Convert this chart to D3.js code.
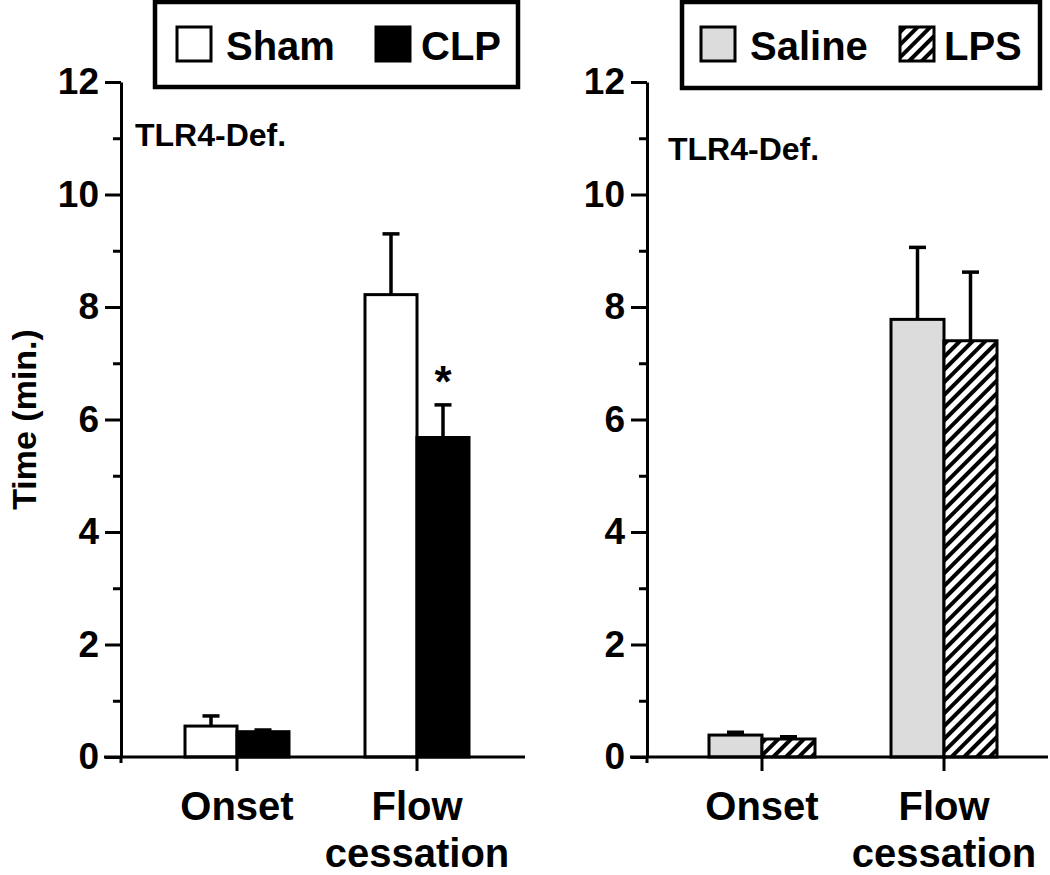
<!DOCTYPE html>
<html>
<head>
<meta charset="utf-8">
<script src="https://cdn.jsdelivr.net/npm/d3@7"></script>
<style>
  html, body { margin: 0; padding: 0; background: #fff; }
  svg { display: block; font-family: "Liberation Sans", Arial, sans-serif; font-weight: bold; }
</style>
</head>
<body>
<svg id="chart" width="1050" height="875"></svg>
<script>
// ---- data ----
const categories = ["Onset", "Flow cessation"];
const yTicks = [0, 2, 4, 6, 8, 10, 12];
const yMinorTicks = [1, 3, 5, 7, 9, 11];

const leftSeries = ["Sham", "CLP"];
const shamMean = [0.55, 8.22];
const shamSE = [0.18, 1.08];
const clpMean = [0.45, 5.68];
const clpSE = [0.03, 0.58];

const rightSeries = ["Saline", "LPS"];
const salineMean = [0.39, 7.78];
const salineSE = [0.05, 1.28];
const lpsMean = [0.32, 7.40];
const lpsSE = [0.04, 1.22];

const panelTitle = "TLR4-Def.";
const yTitle = "Time (min.)";

// ---- setup ----
const svg = d3.select("#chart");
const defs = svg.append("defs");
const pat = defs.append("pattern")
  .attr("id", "hatch")
  .attr("patternUnits", "userSpaceOnUse")
  .attr("width", 9).attr("height", 9)
  .attr("patternTransform", "rotate(45)");
pat.append("rect").attr("width", 9).attr("height", 9).attr("fill", "#fff");
pat.append("line").attr("x1", 2).attr("y1", 0).attr("x2", 2).attr("y2", 9)
  .attr("stroke", "#000").attr("stroke-width", 4);

const y = d3.scaleLinear().domain([0, 12]).range([757, 82]);

const styles = {
  Sham: { fill: "#fff" },
  CLP: { fill: "#000" },
  Saline: { fill: "#dcdcdc" },
  LPS: { fill: "url(#hatch)" }
};

function drawPanel(cfg) {
  const g = svg.append("g");
  const x = d3.scaleBand().domain(categories).range(cfg.xRange).padding(0);
  const xs = d3.scaleBand().domain(cfg.series).range([-cfg.barW, cfg.barW]).padding(0);

  // bars
  cfg.series.forEach((s, si) => {
    const data = categories.map((c, i) => ({ c, m: cfg.means[si][i], se: cfg.ses[si][i] }));
    const sg = g.append("g");
    sg.selectAll("rect").data(data).join("rect")
      .attr("x", d => x(d.c) + x.bandwidth() / 2 + xs(s))
      .attr("y", d => y(d.m))
      .attr("width", xs.bandwidth())
      .attr("height", d => y(0) - y(d.m))
      .attr("fill", styles[s].fill)
      .attr("stroke", "#000").attr("stroke-width", 3);
    // error bars (upper only)
    sg.selectAll("line.err").data(data).join("line").attr("class", "err")
      .attr("x1", d => x(d.c) + x.bandwidth() / 2 + xs(s) + xs.bandwidth() / 2)
      .attr("x2", d => x(d.c) + x.bandwidth() / 2 + xs(s) + xs.bandwidth() / 2)
      .attr("y1", d => y(d.m))
      .attr("y2", d => y(d.m + d.se))
      .attr("stroke", "#000").attr("stroke-width", 3.5);
    sg.selectAll("line.cap").data(data).join("line").attr("class", "cap")
      .attr("x1", d => x(d.c) + x.bandwidth() / 2 + xs(s) + xs.bandwidth() / 2 - 8.5)
      .attr("x2", d => x(d.c) + x.bandwidth() / 2 + xs(s) + xs.bandwidth() / 2 + 8.5)
      .attr("y1", d => y(d.m + d.se))
      .attr("y2", d => y(d.m + d.se))
      .attr("stroke", "#000").attr("stroke-width", 3.5);
  });

  // y axis
  const yAxis = g.append("g").attr("transform", `translate(${cfg.axisX},0)`)
    .call(d3.axisLeft(y).tickValues(yTicks).tickSize(16).tickSizeOuter(0).tickPadding(6).tickFormat(d3.format("d")));
  yAxis.select(".domain").attr("stroke-width", 3);
  yAxis.selectAll(".tick line").attr("stroke-width", 3);
  yAxis.selectAll(".tick text").attr("font-size", 37).attr("font-weight", "bold")
    .attr("font-family", '"Liberation Sans", Arial, sans-serif').attr("fill", "#000");
  const yMinor = g.append("g").attr("transform", `translate(${cfg.axisX},0)`)
    .call(d3.axisLeft(y).tickValues(yMinorTicks).tickSize(8).tickFormat(""));
  yMinor.select(".domain").remove();
  yMinor.selectAll(".tick line").attr("stroke-width", 3);

  // x axis
  g.append("line")
    .attr("x1", cfg.xLine[0]).attr("x2", cfg.xLine[1])
    .attr("y1", y(0)).attr("y2", y(0))
    .attr("stroke", "#000").attr("stroke-width", 3);
  const xAxis = g.append("g").attr("transform", `translate(0,${y(0)})`)
    .call(d3.axisBottom(x).tickSize(14).tickSizeOuter(0).tickFormat(""));
  xAxis.select(".domain").remove();
  xAxis.selectAll(".tick line").attr("stroke-width", 3);
  g.append("line").attr("x1", cfg.axisX).attr("x2", cfg.axisX)
    .attr("y1", y(0)).attr("y2", y(0) + 6).attr("stroke", "#000").attr("stroke-width", 3);

  // category labels
  categories.forEach(c => {
    const words = c.split(" ");
    const t = g.append("text")
      .attr("x", x(c) + x.bandwidth() / 2)
      .attr("y", 820)
      .attr("text-anchor", "middle")
      .attr("font-size", 40);
    words.forEach((w, i) => {
      t.append("tspan").attr("x", x(c) + x.bandwidth() / 2)
        .attr("dy", i === 0 ? 0 : 47).text(w);
    });
  });

  // panel title
  g.append("text").attr("x", cfg.titleX).attr("y", cfg.titleY)
    .attr("font-size", 32).text(panelTitle);

  // legend
  const L = cfg.legend;
  g.append("rect").attr("x", L.x).attr("y", L.y).attr("width", L.w).attr("height", L.h)
    .attr("fill", "#fff").attr("stroke", "#000").attr("stroke-width", 4.5);
  cfg.series.forEach((s, i) => {
    g.append("rect").attr("x", L.sw[i]).attr("y", 27).attr("width", 34).attr("height", 34)
      .attr("fill", styles[s].fill).attr("stroke", "#000").attr("stroke-width", 3);
    g.append("text").attr("x", L.tx[i]).attr("y", 60).attr("font-size", 40).text(s);
  });

  return { x, xs, g };
}

const left = drawPanel({
  series: leftSeries,
  means: [shamMean, clpMean],
  ses: [shamSE, clpSE],
  xRange: [147, 507],
  barW: 52,
  axisX: 121,
  xLine: [104, 525],
  titleX: 135, titleY: 146,
  legend: { x: 155, y: 2, w: 363, h: 85, sw: [177, 376], tx: [226, 421] }
});

drawPanel({
  series: rightSeries,
  means: [salineMean, lpsMean],
  ses: [salineSE, lpsSE],
  xRange: [671, 1035],
  barW: 53,
  axisX: 647,
  xLine: [630, 1048],
  titleX: 668, titleY: 160,
  legend: { x: 682, y: 2, w: 358, h: 86, sw: [701, 900], tx: [750, 944] }
});

// significance asterisk over CLP flow cessation
{
  const c = categories[1];
  const cx = left.x(c) + left.x.bandwidth() / 2 + left.xs("CLP") + left.xs.bandwidth() / 2;
  svg.append("text").attr("x", cx).attr("y", y(clpMean[1] + clpSE[1]) - 8)
    .attr("text-anchor", "middle").attr("font-size", 44).text("*");
}

// y-axis title
svg.append("text")
  .attr("transform", `translate(36,${(y(0) + y(12)) / 2}) rotate(-90)`)
  .attr("text-anchor", "middle").attr("font-size", 34).text(yTitle);
</script>
</body>
</html>
